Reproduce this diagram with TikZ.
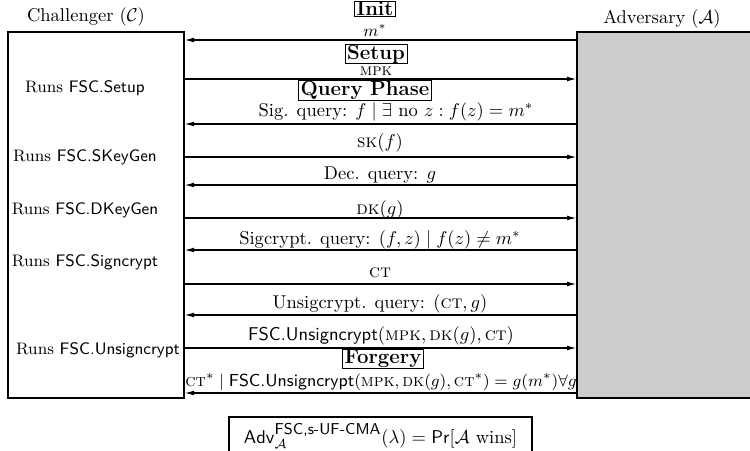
\documentclass[tikz,border=0pt]{standalone}
\usepackage{amsmath,amssymb}
\usetikzlibrary{arrows.meta}
\tikzset{
  party/.style={draw, line width=0.8pt, inner sep=0pt},
  msg/.style={line width=0.6pt, -{Latex[length=5pt,width=2.6pt]}},
  lbl/.style={inner sep=0pt, anchor=center},
  act/.style={inner sep=0pt, anchor=center, font=\small},
  phase/.style={draw, line width=0.5pt, inner xsep=1.2pt, inner ysep=0.3pt, font=\bfseries\fontsize{11}{12}\selectfont},
}
\newcommand{\fsc}[1]{\textsf{FSC.#1}}
\begin{document}
\begin{tikzpicture}[x=0.54pt,y=-0.54pt]
\useasboundingbox (0,0) rectangle (750,450);
% parties
\node[party, minimum width=95.04pt, minimum height=197.64pt] (C) at (96,215) {};
\node[party, fill=gray!40, minimum width=98.82pt, minimum height=197.64pt] (A) at (668.5,215) {};
\node[lbl] (ct) at (86,17) {Challenger ($\mathcal{C}$)};
\node[lbl] (at) at (662,19) {Adversary ($\mathcal{A}$)};
% challenger actions
\node[act] (r1) at (85,88) {Runs \fsc{Setup}};
\node[act] (r2) at (85,157) {Runs \fsc{SKeyGen}};
\node[act] (r3) at (85,210) {Runs \fsc{DKeyGen}};
\node[act] (r4) at (85,262) {Runs \fsc{Signcrypt}};
\node[act] (r5) at (98,350) {Runs \fsc{Unsigncrypt}};
% messages
\node[phase] (pinit) at (375,9) {Init};
\node[lbl] (l1) at (375,30.5) {\small $m^*$};
\draw[msg] (A.west |- 0,40) -- (C.east |- 0,40);
\node[phase] (psetup) at (376,54) {Setup};
\node[lbl] (l2) at (376,71) {\small \textsc{mpk}};
\draw[msg] (C.east |- 0,79) -- (A.west |- 0,79);
\node[phase] (pquery) at (365,90.5) {Query Phase};
\node[lbl] (l3) at (396,112) {Sig. query: $f \mid \exists$ no $z : f(z) = m^*$};
\draw[msg] (A.west |- 0,124) -- (C.east |- 0,124);
\node[lbl] (l4) at (380,143) {\textsc{sk}$(f)$};
\draw[msg] (C.east |- 0,157) -- (A.west |- 0,157);
\node[lbl] (l5) at (380,175) {Dec. query: $g$};
\draw[msg] (A.west |- 0,185) -- (C.east |- 0,185);
\node[lbl] (l6) at (380,210) {\textsc{dk}$(g)$};
\draw[msg] (C.east |- 0,218) -- (A.west |- 0,218);
\node[lbl] (l7) at (380,240) {Sigcrypt. query: $(f,z) \mid f(z) \neq m^*$};
\draw[msg] (A.west |- 0,250) -- (C.east |- 0,250);
\node[lbl] (l8) at (380,273) {\textsc{ct}};
\draw[msg] (C.east |- 0,284) -- (A.west |- 0,284);
\node[lbl] (l9) at (380,304) {Unsigcrypt. query: $(\textsc{ct}, g)$};
\draw[msg] (A.west |- 0,315) -- (C.east |- 0,315);
\node[lbl] (l10) at (381,336) {\fsc{Unsigncrypt}$(\textsc{mpk}, \textsc{dk}(g), \textsc{ct})$};
\draw[msg] (C.east |- 0,348) -- (A.west |- 0,348);
\node[phase] (pforge) at (383,359) {Forgery};
\node[lbl, font=\fontsize{9.4}{11}\selectfont] (l11) at (381,382) {$\textsc{ct}^* \mid \fsc{Unsigncrypt}(\textsc{mpk}, \textsc{dk}(g), \textsc{ct}^*) = g(m^*) \forall g$};
\draw[msg] (A.west |- 0,393) -- (C.east |- 0,393);
% result
\node[party, line width=0.6pt, minimum width=163.6pt, minimum height=21.6pt] (R) at (380.5,437) {};
\node[lbl] (rt) at (380.5,436) {$\mathsf{Adv}_{\mathcal{A}}^{\mbox{\fontsize{8.5}{9}\selectfont\sffamily FSC,s-UF-CMA}}(\lambda) = \mathsf{Pr}[\mathcal{A} \text{ wins}]$};
\end{tikzpicture}
\end{document}
